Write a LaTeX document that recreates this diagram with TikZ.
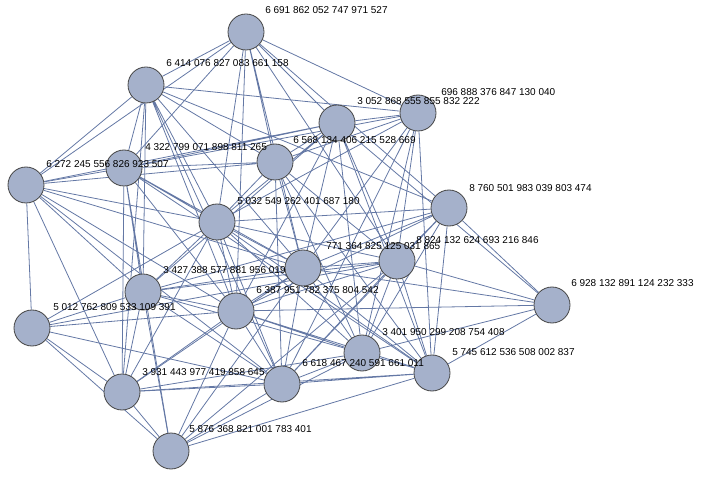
\documentclass[tikz,border=0pt]{standalone}
\usepackage{fontspec}
\setmainfont{Liberation Sans}
\usetikzlibrary{backgrounds}
\definecolor{vfill}{RGB}{165,177,203}
\definecolor{vedge}{RGB}{100,120,165}
\definecolor{vline}{RGB}{70,70,70}
\begin{document}
\begin{tikzpicture}[x=0.75pt,y=-0.75pt,
  vert/.style={circle,draw=vline,fill=vfill,line width=0.6pt,minimum size=27pt,inner sep=0pt},
  lbl/.style={anchor=west,inner sep=0pt,font=\fontsize{7.5}{8}\selectfont},
  edge/.style={draw=vedge,line width=0.6pt}]
	  \useasboundingbox (0,0) rectangle (703,477);
	  % vertices
	  \node[vert] (p1) at (246,32) {};
	  \node[vert] (p2) at (146,85) {};
	  \node[vert] (p3) at (337,123) {};
	  \node[vert] (p4) at (418,113) {};
	  \node[vert] (p5) at (275,162) {};
	  \node[vert] (p6) at (124,168) {};
	  \node[vert] (p7) at (26,185) {};
	  \node[vert] (p8) at (449,208) {};
	  \node[vert] (p9) at (217,222) {};
	  \node[vert] (p10) at (303,268) {};
	  \node[vert] (p11) at (397,261) {};
	  \node[vert] (p12) at (143,292) {};
	  \node[vert] (p13) at (236,311) {};
	  \node[vert] (p14) at (552,305) {};
	  \node[vert] (p15) at (32,328) {};
	  \node[vert] (p16) at (362,353) {};
	  \node[vert] (p17) at (432,373) {};
	  \node[vert] (p18) at (122,392) {};
	  \node[vert] (p19) at (282,384) {};
	  \node[vert] (p20) at (171,451) {};
	  % labels
	  \node[lbl] (l1) at (265,10) {6 691 862 052 747 971 527};
	  \node[lbl] (l2) at (166,63) {6 414 076 827 083 661 158};
	  \node[lbl] (l3) at (357,101) {3 052 868 555 855 832 222};
	  \node[lbl] (l4) at (441,92) {696 888 376 847 130 040};
	  \node[lbl] (l5) at (293,140) {6 568 134 406 215 528 669};
	  \node[lbl] (l6) at (145,147) {4 322 799 071 898 811 265};
	  \node[lbl] (l7) at (46,164) {6 272 245 556 826 923 507};
	  \node[lbl] (l8) at (469,188) {8 760 501 983 039 803 474};
	  \node[lbl] (l9) at (237,201) {5 032 549 262 401 687 180};
	  \node[lbl] (l10) at (326,246) {771 364 825 125 031 865};
	  \node[lbl] (l11) at (416,240) {8 824 132 624 693 216 846};
	  \node[lbl] (l12) at (163,270) {3 427 388 577 881 956 019};
	  \node[lbl] (l13) at (256,290) {6 387 951 782 375 804 542};
	  \node[lbl] (l14) at (571,283) {6 928 132 891 124 232 333};
	  \node[lbl] (l15) at (53,307) {5 012 762 809 533 109 391};
	  \node[lbl] (l16) at (382,332) {3 401 950 299 208 754 408};
	  \node[lbl] (l17) at (452,352) {5 745 612 536 508 002 837};
	  \node[lbl] (l18) at (142,372) {3 931 443 977 419 858 645};
	  \node[lbl] (l19) at (302,363) {6 618 467 240 591 661 011};
	  \node[lbl] (l20) at (189,429) {5 876 368 821 001 783 401};
	  % edges
	  \begin{scope}[on background layer]
	  \draw[edge] (p1) -- (p2) (p1) -- (p6) (p1) -- (p7) (p1) -- (p9) (p1) -- (p13) (p1) -- (p5) (p1) -- (p10) (p1) -- (p11) (p1) -- (p3) (p1) -- (p4) (p1) -- (p8);
	  \draw[edge] (p2) -- (p4) (p2) -- (p7) (p2) -- (p6) (p2) -- (p12) (p2) -- (p18) (p2) -- (p9) (p2) -- (p13) (p2) -- (p10) (p2) -- (p5) (p2) -- (p19) (p2) -- (p8);
	  \draw[edge] (p3) -- (p4) (p3) -- (p5) (p3) -- (p6) (p3) -- (p7) (p3) -- (p9) (p3) -- (p11) (p3) -- (p16) (p3) -- (p17) (p3) -- (p10) (p3) -- (p14) (p3) -- (p13) (p3) -- (p12);
	  \draw[edge] (p4) -- (p5) (p4) -- (p6) (p4) -- (p11) (p4) -- (p16) (p4) -- (p17) (p4) -- (p10) (p4) -- (p19) (p4) -- (p9);
	  \draw[edge] (p5) -- (p6) (p5) -- (p9) (p5) -- (p10) (p5) -- (p16) (p5) -- (p17) (p5) -- (p11) (p5) -- (p19) (p5) -- (p7);
	  \draw[edge] (p6) -- (p7) (p6) -- (p9) (p6) -- (p12) (p6) -- (p18) (p6) -- (p13) (p6) -- (p10) (p6) -- (p17) (p6) -- (p20);
	  \draw[edge] (p7) -- (p9) (p7) -- (p15) (p7) -- (p13) (p7) -- (p12) (p7) -- (p19) (p7) -- (p18) (p7) -- (p10);
	  \draw[edge] (p8) -- (p9) (p8) -- (p10) (p8) -- (p11) (p8) -- (p14) (p8) -- (p16) (p8) -- (p17) (p8) -- (p19) (p8) -- (p13) (p8) -- (p12);
	  \draw[edge] (p9) -- (p10) (p9) -- (p12) (p9) -- (p13) (p9) -- (p16) (p9) -- (p19) (p9) -- (p11) (p9) -- (p17) (p9) -- (p15) (p9) -- (p18);
	  \draw[edge] (p10) -- (p11) (p10) -- (p13) (p10) -- (p16) (p10) -- (p19) (p10) -- (p12) (p10) -- (p20) (p10) -- (p18) (p10) -- (p17) (p10) -- (p14);
	  \draw[edge] (p11) -- (p12) (p11) -- (p13) (p11) -- (p14) (p11) -- (p16) (p11) -- (p17) (p11) -- (p19) (p11) -- (p20) (p11) -- (p15);
	  \draw[edge] (p12) -- (p13) (p12) -- (p15) (p12) -- (p18) (p12) -- (p20) (p12) -- (p19) (p12) -- (p16);
	  \draw[edge] (p13) -- (p14) (p13) -- (p15) (p13) -- (p16) (p13) -- (p17) (p13) -- (p19) (p13) -- (p20) (p13) -- (p18);
	  \draw[edge] (p14) -- (p16) (p14) -- (p17);
	  \draw[edge] (p15) -- (p18) (p15) -- (p19) (p15) -- (p20);
	  \draw[edge] (p16) -- (p17) (p16) -- (p19) (p16) -- (p20) (p16) -- (p18);
	  \draw[edge] (p17) -- (p18) (p17) -- (p19) (p17) -- (p20);
	  \draw[edge] (p18) -- (p19) (p18) -- (p20);
	  \draw[edge] (p19) -- (p20);
	  \end{scope}
	\end{tikzpicture}
\end{document}
